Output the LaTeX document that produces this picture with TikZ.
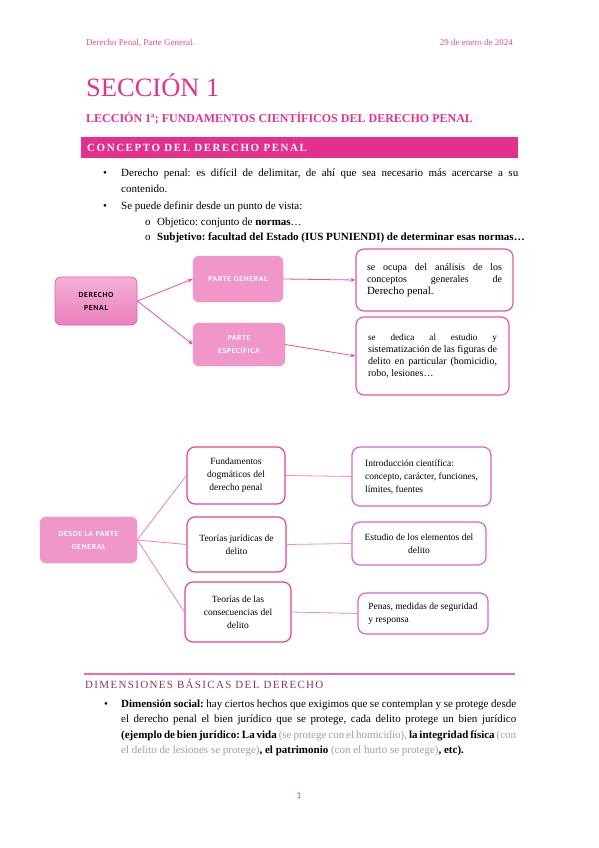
\documentclass[tikz,border=0pt]{standalone}
\usepackage{fontspec}
\setmainfont{Liberation Serif}
\newfontfamily\calfont{Carlito}
\newfontfamily\calspaced{Carlito}[LetterSpace=8]
\newfontfamily\serifspaced{Liberation Serif}[LetterSpace=14]
\newfontfamily\dimfont{Liberation Serif}[LetterSpace=12]
\usetikzlibrary{positioning, arrows.meta}
\frenchspacing

\definecolor{headpink}{HTML}{E64C9E}
\definecolor{hotpink}{HTML}{E2338F}
\definecolor{bandpink}{HTML}{E2308C}
\definecolor{boxpink}{HTML}{F096C8}
\definecolor{rootlight}{HTML}{F5B0D6}
\definecolor{rootdark}{HTML}{EA80BC}
\definecolor{rootline}{HTML}{E8609E}
\definecolor{arrowpink}{HTML}{EC4FA0}
\definecolor{noteline}{HTML}{E9559F}
\definecolor{midline}{HTML}{E8428E}
\definecolor{endline}{HTML}{D964D3}
\definecolor{linkpink}{HTML}{EF7FBE}
\definecolor{linkviolet}{HTML}{E58AE0}
\definecolor{dimhead}{HTML}{8D3566}
\definecolor{rulepink}{HTML}{EA6AAE}
\definecolor{greytxt}{HTML}{A0A0A0}

\newcommand{\jline}[2]{\makebox[#1][s]{#2}}

\tikzset{
  txt/.style={anchor=base west, inner sep=0pt, font=\fontsize{11}{13}\selectfont},
  hdr/.style={anchor=base west, inner sep=0pt, text=headpink,
              font=\fontsize{9}{11}\selectfont},
  fillbox/.style={rectangle, rounded corners=6pt, fill=boxpink,
                  draw=boxpink, text=white, align=center, inner sep=0pt,
                  font=\calspaced\bfseries\fontsize{7.8}{13}\selectfont},
  rootbox/.style={rectangle, rounded corners=6pt, top color=rootlight,
                  bottom color=rootdark, draw=rootline, thick, text=black,
                  align=center, inner sep=0pt,
                  font=\calspaced\bfseries\fontsize{7.8}{13}\selectfont},
  notebox/.style={rectangle, rounded corners=8pt, draw=noteline,
                  line width=1.2pt, fill=white, align=left, inner sep=0pt},
  midbox/.style={rectangle, rounded corners=8pt, draw=midline,
                 line width=1.2pt, fill=white, align=center, inner sep=0pt,
                 font=\fontsize{9.5}{13}\selectfont},
  endbox/.style={rectangle, rounded corners=8pt, draw=endline,
                 line width=1.2pt, fill=white, inner sep=0pt,
                 font=\fontsize{9.5}{13}\selectfont},
  arr/.style={-{Stealth[length=5pt,width=4pt]}, draw=arrowpink, line width=0.8pt},
  lnk/.style={draw=linkpink, line width=0.8pt},
  lnkv/.style={draw=linkviolet, line width=0.8pt},
}

\begin{document}
\begin{tikzpicture}[x=1pt,y=-1pt]
  \useasboundingbox[fill=white] (0,0) rectangle (599,848);

  % page header
  \node[hdr] (hleft) at (86,46) {Derecho Penal, Parte General.};
  \node[hdr,anchor=base east] (hright) at (513,46) {29 de enero de 2024};

  % titles
  \node[txt,text=hotpink,font=\fontsize{26.5}{30}\selectfont] (seccion) at (86,97)
        {SECCIÓN 1};
  \node[txt,text=hotpink,font=\bfseries\fontsize{12}{14}\selectfont] (leccion) at (86,123)
        {LECCIÓN 1ª; FUNDAMENTOS CIENTÍFICOS DEL DERECHO PENAL};

  % section band
  \fill[bandpink] (81,137) rectangle (518,158);
  \node[txt,text=white,font=\serifspaced\bfseries\fontsize{11}{13}\selectfont] (concepto)
        at (87,151.5) {CONCEPTO DEL DERECHO PENAL};

  % bullets
  \node[txt] (b1) at (103,176) {\textbullet};
  \node[txt] (l1) at (121,176)
        {\jline{397pt}{Derecho penal: es difícil de delimitar, de ahí que sea necesario más acercarse a su}};
  \node[txt] (l2) at (121,192) {contenido.};
  \node[txt] (b2) at (103,209) {\textbullet};
  \node[txt] (l3) at (121,209) {Se puede definir desde un punto de vista:};
  \node[txt] (o1) at (145,225) {o};
  \node[txt] (l4) at (157,225) {Objetico: conjunto de \textbf{normas}…};
  \node[txt] (o2) at (145,240) {o};
  \node[txt] (l5) at (157,240)
        {\textbf{Subjetivo: facultad del Estado (IUS PUNIENDI) de determinar esas normas…}};

  % first diagram
  \node[rootbox,minimum width=82pt,minimum height=48pt] (dp) at (96,301)
        {DERECHO\\PENAL};
  \node[fillbox,minimum width=90pt,minimum height=46pt] (pg) at (238,279)
        {PARTE GENERAL};
  \node[fillbox,minimum width=92pt,minimum height=43pt] (pe) at (239,344.5)
        {PARTE\\ESPECÍFICA};
  \node[notebox,minimum width=157pt,minimum height=62pt] (gnote) at (434.5,280)
        {\fontsize{10}{14}\selectfont
         \jline{135pt}{se ocupa del análisis de los}\\
         \jline{135pt}{conceptos generales de}\\
         {\fontsize{11}{14}\selectfont Derecho penal.}};
  \node[notebox,minimum width=153pt,minimum height=78pt] (enote) at (432.5,356)
        {\fontsize{9.2}{13.5}\selectfont
         \jline{129pt}{se dedica al estudio y}\\
         \jline{129pt}{sistematización de las figuras de}\\
         \jline{129pt}{delito en particular (homicidio,}\\
         robo, lesiones…};
  \draw[arr] (dp.east) -- (pg.west);
  \draw[arr] (dp.east) -- (pe.west);
  \draw[arr] (pg.east) -- (gnote.west);
  \draw[arr] (pe.east) -- (enote.west);

  % second diagram
  \node[fillbox,minimum width=97pt,minimum height=46pt] (desde) at (88.5,540)
        {DESDE LA PARTE\\GENERAL};
  \node[midbox,minimum width=98pt,minimum height=57pt] (fund) at (236,475.5)
        {Fundamentos\\dogmáticos del\\derecho penal};
  \node[midbox,minimum width=99pt,minimum height=55pt] (teojur) at (236.5,544.5)
        {Teorías jurídicas de\\delito};
  \node[midbox,minimum width=106pt,minimum height=60pt] (teocon) at (238,612)
        {Teorías de las\\consecuencias del\\delito};
  \node[endbox,align=left,minimum width=139pt,minimum height=59pt] (intro) at (421.5,476.5)
        {Introducción científica:\\concepto, carácter, funciones,\\límites, fuentes};
  \node[endbox,align=center,minimum width=134pt,minimum height=43pt] (estudio) at (419,543.5)
        {Estudio de los elementos del\\delito};
  \node[endbox,align=left,minimum width=130pt,minimum height=41pt] (penas) at (423,613.5)
        {Penas, medidas de seguridad\\y responsa};
  \foreach \m in {fund, teojur, teocon}
    \draw[lnk] (desde.east) -- (\m.west);
  \draw[lnkv] (fund.east) -- (intro.west);
  \draw[lnkv] (teojur.east) -- (estudio.west);
  \draw[lnkv] (teocon.east) -- (penas.west);

  % second section
  \draw[rulepink, line width=1.2pt] (84,674) -- (515,674);
  \node[txt,text=dimhead,font=\dimfont\fontsize{11}{13}\selectfont] (dimen)
        at (85,688) {DIMENSIONES BÁSICAS DEL DERECHO};
  \node[txt] (b3) at (104,707) {\textbullet};
  \node[txt] (m1) at (121,707)
        {\jline{395pt}{\textbf{Dimensión social:} hay ciertos hechos que exigimos que se contemplan y se protege desde}};
  \node[txt] (m2) at (121,722.5)
        {\jline{395pt}{el derecho penal el bien jurídico que se protege, cada delito protege un bien jurídico}};
  \node[txt] (m3) at (121,738)
        {\jline{395pt}{\textbf{(ejemplo de bien jurídico: La vida} \textcolor{greytxt}{(se protege con el homicidio),} \textbf{la integridad física} \textcolor{greytxt}{(con}}};
  \node[txt] (m4) at (121,753.5)
        {\textcolor{greytxt}{el delito de lesiones se protege)}\textbf{, el patrimonio} \textcolor{greytxt}{(con el hurto se protege)}\textbf{, etc).}};

  % page number
  \node[txt,anchor=base,text=hotpink,font=\calfont\fontsize{9}{11}\selectfont] (pnum)
        at (299,798) {1};
\end{tikzpicture}
\end{document}
